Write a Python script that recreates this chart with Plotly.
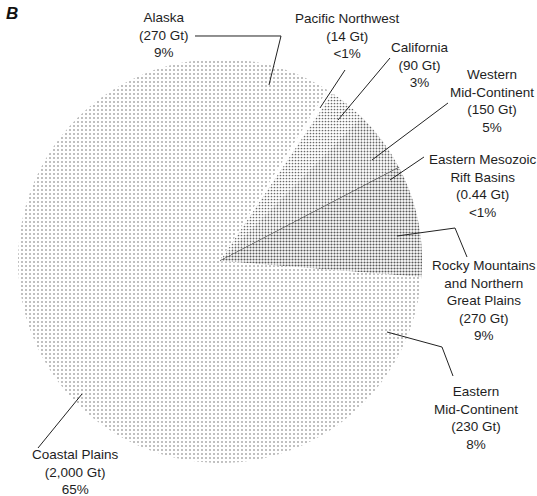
import plotly.graph_objects as go

# ---- data ----
regions = ["Alaska", "Pacific Northwest", "California", "Western Mid-Continent",
           "Eastern Mesozoic Rift Basins", "Rocky Mountains and Northern Great Plains",
           "Eastern Mid-Continent", "Coastal Plains"]
label_names = ["Alaska", "Pacific Northwest", "California", "Western<br>Mid-Continent",
               "Eastern Mesozoic<br>Rift Basins", "Rocky Mountains<br>and Northern<br>Great Plains",
               "Eastern<br>Mid-Continent", "Coastal Plains"]
resources_gt = [270, 14, 90, 150, 0.44, 270, 230, 2000]
gt_labels = ["(270 Gt)", "(14 Gt)", "(90 Gt)", "(150 Gt)", "(0.44 Gt)", "(270 Gt)", "(230 Gt)", "(2,000 Gt)"]
percent_labels = ["9%", "<1%", "3%", "5%", "<1%", "9%", "8%", "65%"]

W, H = 537, 496

def px(x, y):
    return x / W, 1 - y / H

# styling per slice (stipple patterns)
pat_size = [4, 4, 3, 3, 3, 3, 4, 4]
pat_solid = [0.13, 0.02, 0.26, 0.30, 0.5, 0.38, 0.13, 0.13]
pat_fg = ["#707070", "#b0b0b0", "#6a6a6a", "#666666", "#444444", "#5a5a5a", "#707070", "#707070"]
line_w = [0, 0, 0, 0, 0.9, 0, 0, 0]

cx0, cy0 = px(18, 463)
cx1, cy1 = px(422, 59)

fig = go.Figure(go.Pie(
    labels=regions, values=resources_gt, sort=False, direction="clockwise", rotation=0,
    textinfo="none", hoverinfo="label+value",
    domain=dict(x=[cx0, cx1], y=[cy0, cy1]),
    marker=dict(
        colors=["white"] * 8,
        line=dict(color="#555555", width=line_w),
        pattern=dict(shape=["."] * 8, size=pat_size, solidity=pat_solid,
                     fgcolor=pat_fg, bgcolor=["white"] * 8, fillmode="replace"),
    ),
    showlegend=False,
))

FONT = "Liberation Sans Narrow, Liberation Sans, Arial, sans-serif"

# label anchor positions (pixel centers)
label_pos = [(164, 35.5), (347, 36), (420, 65), (492, 101), (483, 186), (484, 300), (476, 418), (75, 472)]

annotations = []
for name, gt, pct, (x, y) in zip(label_names, gt_labels, percent_labels, label_pos):
    ax, ay = px(x, y)
    annotations.append(dict(
        x=ax, y=ay, xref="paper", yref="paper", xanchor="center", yanchor="middle",
        text=f"{name}<br>{gt}<br>{pct}", showarrow=False, align="center",
        font=dict(family=FONT, size=13.5, color="#1e1e1e")))

bx, by = px(12, 13)
annotations.append(dict(x=bx, y=by, xref="paper", yref="paper", xanchor="center", yanchor="middle",
                        text="<b><i>B</i></b>", showarrow=False,
                        font=dict(family="Liberation Sans, Arial, sans-serif", size=17, color="#111")))

leaders = [
    [(195, 36), (281, 36), (269, 85)],
    [(345, 70), (320, 108)],
    [(390, 58), (338, 120)],
    [(448, 103), (372, 160)],
    [(424, 157), (390, 180)],
    [(397, 236), (455, 228), (467, 257)],
    [(387, 332), (442, 347), (453, 376)],
    [(38, 448), (82, 394)],
]
shapes = []
for pts in leaders:
    path = ""
    for i, (x, y) in enumerate(pts):
        X, Y = px(x, y)
        path += ("M" if i == 0 else "L") + f"{X:.5f},{Y:.5f} "
    shapes.append(dict(type="path", xref="paper", yref="paper", path=path.strip(),
                       line=dict(color="#222222", width=1)))

fig.update_layout(width=W, height=H, margin=dict(l=0, r=0, t=0, b=0),
                  paper_bgcolor="white", plot_bgcolor="white",
                  annotations=annotations, shapes=shapes)

fig.write_html("out.html")
